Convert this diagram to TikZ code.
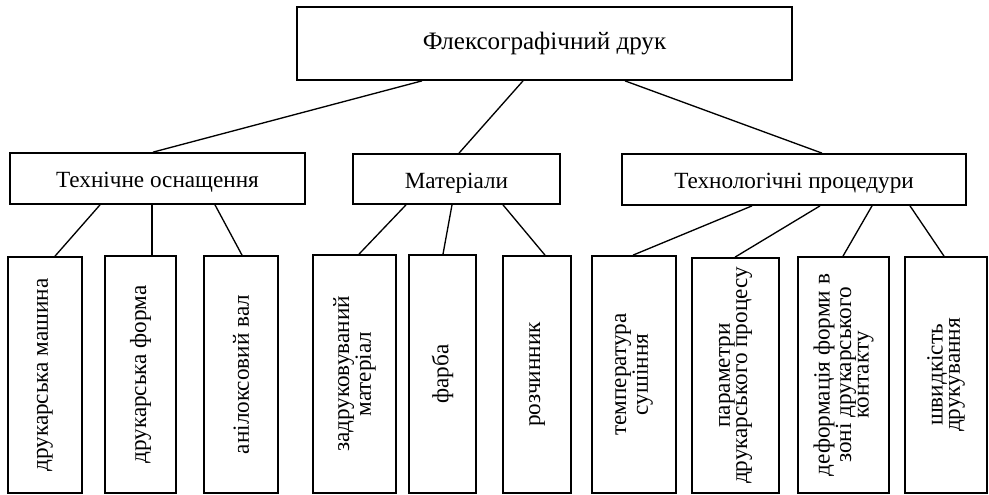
\documentclass[tikz,border=0pt]{standalone}
\usepackage{fontspec}
\setmainfont{Liberation Serif}
\usetikzlibrary{fit}
\begin{document}
\begin{tikzpicture}[x=0.75pt,y=-0.75pt,
  box/.style={draw=black,line width=1.3pt,inner sep=0pt,fill=white},
  conn/.style={draw=black,line width=1pt},
  htext/.style={font=\fontsize{17.4}{20}\selectfont,yshift=-3pt},
  ttext/.style={font=\fontsize{18.8}{22}\selectfont},
  vtext/.style={rotate=90,align=center,font=\fontsize{17.4}{13}\selectfont,inner sep=0pt}]
\useasboundingbox (0,0) rectangle (989,494);
% top level
\node[box,fit={(297,7)(792,80)}] (top) {};
\node[ttext] (toplbl) at (top.center) {Флексографічний друк};
% second level
\node[box,fit={(10,153)(305,204)}] (t1) {};
\node[htext] (t1lbl) at (t1.center) {Технічне оснащення};
\node[box,fit={(353,154)(560,204)}] (t2) {};
\node[htext] (t2lbl) at (t2.center) {Матеріали};
\node[box,fit={(622,154)(966,205)}] (t3) {};
\node[htext] (t3lbl) at (t3.center) {Технологічні процедури};
% third level
\node[box,fit={(8,257)(82,493)}] (c1) {};
\node[box,fit={(105,256)(176,493)}] (c2) {};
\node[box,fit={(204,256)(278,493)}] (c3) {};
\node[box,fit={(313,255)(396,493)}] (c4) {};
\node[box,fit={(409,255)(476,493)}] (c5) {};
\node[box,fit={(503,256)(571,493)}] (c6) {};
\node[box,fit={(592,256)(676,493)}] (c7) {};
\node[box,fit={(692,258)(779,493)}] (c8) {};
\node[box,fit={(798,257)(889,493)}] (c9) {};
\node[box,fit={(905,257)(987,493)}] (c10) {};
\node[vtext] (l1) at (c1.center) {друкарська машина};
\node[vtext] (l2) at (c2.center) {друкарська форма};
\node[vtext] (l3) at (c3.center) {анілоксовий вал};
\node[vtext] (l4) at (c4.center) {задруковуваний\\матеріал};
\node[vtext] (l5) at (c5.center) {фарба};
\node[vtext] (l6) at (c6.center) {розчинник};
\node[vtext] (l7) at (c7.center) {температура\\сушіння};
\node[vtext] (l8) at (c8.center) {параметри\\друкарського процесу};
\node[vtext] (l9) at (c9.center) {деформація форми в\\зоні друкарського\\контакту};
\node[vtext] (l10) at (c10.center) {швидкість\\друкування};
% connectors
\draw[conn] (top.south -| 422,0) -- (t1.north -| 153,0);
\draw[conn] (top.south -| 523,0) -- (t2.north -| 459,0);
\draw[conn] (top.south -| 625,0) -- (t3.north -| 822,0);
\draw[conn] (t1.south -| 100,0) -- (c1.north -| 55,0);
\draw[conn] (t1.south -| 152,0) -- (c2.north -| 152,0);
\draw[conn] (t1.south -| 215,0) -- (c3.north -| 242,0);
\draw[conn] (t2.south -| 406,0) -- (c4.north -| 359,0);
\draw[conn] (t2.south -| 452,0) -- (c5.north -| 443,0);
\draw[conn] (t2.south -| 503,0) -- (c6.north -| 545,0);
\draw[conn] (t3.south -| 752,0) -- (c7.north -| 633,0);
\draw[conn] (t3.south -| 820,0) -- (c8.north -| 735,0);
\draw[conn] (t3.south -| 872,0) -- (c9.north -| 843,0);
\draw[conn] (t3.south -| 910,0) -- (c10.north -| 944,0);
\end{tikzpicture}
\end{document}
